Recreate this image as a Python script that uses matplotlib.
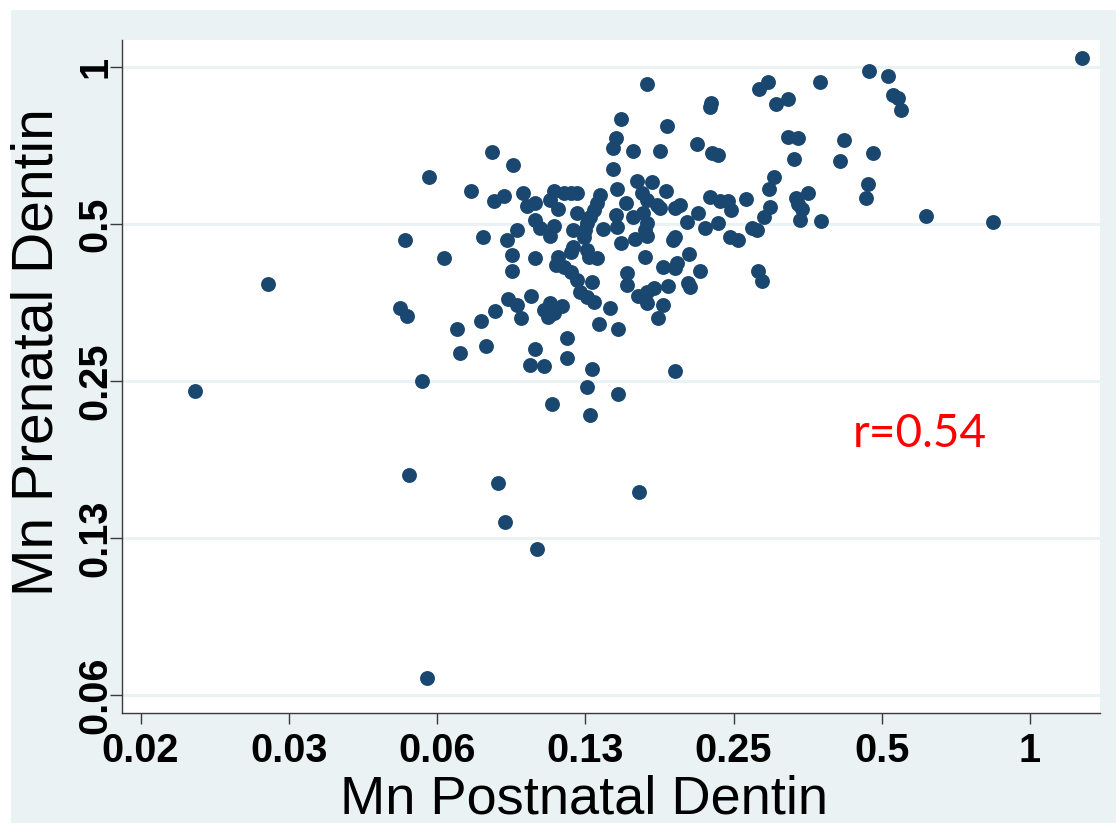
import matplotlib
matplotlib.use("Agg")
import matplotlib.pyplot as plt
from matplotlib.patches import Rectangle
from matplotlib.ticker import NullLocator

# Mn concentrations (log2 axes)
postnatal = [
    0.0202, 0.0284, 0.0526, 0.0544, 0.0539, 0.0603, 0.0646, 0.0583, 0.0549, 0.0596,
    0.0687, 0.0697, 0.0734,
    0.167, 0.225, 0.224, 0.148, 0.183, 0.144, 0.142, 0.211, 0.156, 0.177, 0.226, 0.233,
    0.282, 0.294, 0.305, 0.323, 0.375, 0.471, 0.515, 0.527, 0.540, 0.547, 1.275,
    0.323, 0.338, 0.332, 0.419, 0.411, 0.480,
    0.302, 0.295, 0.469, 0.465, 0.354, 0.265, 0.335, 0.338, 0.345, 0.341, 0.377,
    0.297, 0.288, 0.273, 0.279, 0.224, 0.235, 0.244, 0.247, 0.615, 0.841, 0.280, 0.286,
    0.0809, 0.0892, 0.0935, 0.0953, 0.0989, 0.0817, 0.0856,
    0.108, 0.113, 0.117, 0.120, 0.106, 0.110, 0.120, 0.0989, 0.101, 0.108, 0.106, 0.118,
    0.134, 0.132, 0.130, 0.128, 0.126, 0.125, 0.124,
    0.142, 0.145, 0.159, 0.171, 0.182, 0.151, 0.163, 0.167, 0.175, 0.177,
    0.144, 0.136, 0.145, 0.156, 0.164, 0.167, 0.165, 0.167, 0.158, 0.148,
    0.118, 0.117, 0.0888, 0.0989, 0.110, 0.126, 0.127, 0.132, 0.0868, 0.0909, 0.0775, 0.0888,
    0.109, 0.113, 0.117, 0.120, 0.129, 0.122, 0.126, 0.130, 0.140, 0.133, 0.146, 0.152, 0.152,
    0.165, 0.180, 0.190, 0.192, 0.188, 0.190, 0.203, 0.214, 0.202, 0.204, 0.184, 0.160,
    0.167, 0.172, 0.167, 0.180, 0.176,
    0.190, 0.195, 0.201, 0.212, 0.219, 0.233, 0.246, 0.255,
    0.0820, 0.0872, 0.0909, 0.0926, 0.0971, 0.103, 0.106, 0.108, 0.105, 0.112,
    0.0769, 0.0786, 0.0989, 0.0966, 0.103, 0.115, 0.115, 0.129, 0.126, 0.146, 0.107, 0.128,
    0.190,
    0.0832, 0.161, 0.0860, 0.0998,
]
prenatal = [
    0.239, 0.384, 0.345, 0.333, 0.466, 0.616, 0.431, 0.250, 0.165, 0.0674,
    0.315, 0.283, 0.579,
    0.928, 0.853, 0.838, 0.795, 0.771, 0.731, 0.700, 0.712, 0.690, 0.690, 0.684, 0.678,
    0.908, 0.936, 0.850, 0.869, 0.936, 0.983, 0.962, 0.884, 0.873, 0.827, 1.040,
    0.734, 0.731, 0.666, 0.725, 0.661, 0.684,
    0.616, 0.584, 0.597, 0.561, 0.573, 0.558, 0.561, 0.546, 0.534, 0.509, 0.507,
    0.539, 0.516, 0.491, 0.487, 0.563, 0.553, 0.553, 0.532, 0.518, 0.504, 0.406, 0.389,
    0.687, 0.649, 0.573, 0.541, 0.549, 0.553, 0.566,
    0.579, 0.573, 0.573, 0.573, 0.556, 0.534, 0.525, 0.509, 0.491, 0.496, 0.474, 0.487,
    0.568, 0.549, 0.532, 0.516, 0.502, 0.487, 0.472,
    0.637, 0.584, 0.605, 0.602, 0.579, 0.549, 0.573, 0.556, 0.544, 0.537,
    0.520, 0.489, 0.494, 0.516, 0.525, 0.502, 0.487, 0.474, 0.468, 0.460,
    0.452, 0.442, 0.436, 0.431, 0.432, 0.446, 0.432, 0.431, 0.466, 0.487, 0.472, 0.406,
    0.417, 0.414, 0.405, 0.391, 0.387, 0.370, 0.362, 0.354, 0.345, 0.322, 0.315, 0.403, 0.382,
    0.432, 0.414, 0.412, 0.421, 0.466, 0.472, 0.438, 0.406, 0.386, 0.379, 0.380, 0.364,
    0.370, 0.377, 0.353, 0.350, 0.330,
    0.537, 0.544, 0.504, 0.525, 0.491, 0.502, 0.472, 0.466,
    0.341, 0.359, 0.350, 0.330, 0.364, 0.342, 0.353, 0.338, 0.332, 0.348,
    0.326, 0.292, 0.288, 0.268, 0.267, 0.302, 0.277, 0.263, 0.243, 0.236, 0.226, 0.215,
    0.261,
    0.159, 0.153, 0.134, 0.119,
]

xticks = [1/64, 1/32, 1/16, 1/8, 1/4, 1/2, 1]
xticklabels = ['0.02', '0.03', '0.06', '0.13', '0.25', '0.5', '1']
yticks = [1/16, 1/8, 1/4, 1/2, 1]
yticklabels = ['0.06', '0.13', '0.25', '0.5', '1']

bg = '#EAF2F3'
navy = '#1A476F'
axcol = '#3a3a3a'

W, H = 1116, 826
fig = plt.figure(figsize=(W / 100, H / 100), dpi=100)
# light bluish-grey graph region behind the white plot area
fig.patches.append(Rectangle((11 / W, 3 / H), (W - 11) / W, 813 / H,
                             transform=fig.transFigure, facecolor=bg,
                             edgecolor='none', zorder=-10))

ax = fig.add_axes([122 / W, 113 / H, 978 / W, 673 / H])
ax.set_zorder(1)
ax.set_facecolor('white')
ax.set_xscale('log', base=2)
ax.set_yscale('log', base=2)

ax.scatter(postnatal, prenatal, s=115, color=navy, linewidths=0, zorder=3)

ax.set_xlim(0.01433, 1.387)
ax.set_ylim(0.05772, 1.1265)

ax.set_xticks(xticks)
ax.set_xticklabels(xticklabels)
ax.set_yticks(yticks)
ax.set_yticklabels(yticklabels, rotation=90, va='center', ha='right')
ax.xaxis.set_minor_locator(NullLocator())
ax.yaxis.set_minor_locator(NullLocator())

for lab in ax.get_xticklabels() + ax.get_yticklabels():
    lab.set_family('Liberation Sans')
    lab.set_fontweight('bold')
    lab.set_fontsize(28.5)
    lab.set_color('black')

ax.tick_params(axis='x', length=8, width=1, color=axcol, pad=6)
ax.tick_params(axis='y', length=8.5, width=1, color=axcol, pad=-3)

ax.yaxis.grid(True, color=bg, linewidth=2.2)
ax.xaxis.grid(False)
ax.set_axisbelow(True)

for side in ['top', 'right']:
    ax.spines[side].set_visible(False)
for side in ['left', 'bottom']:
    ax.spines[side].set_color(axcol)
    ax.spines[side].set_linewidth(1)

fig.text(584 / W, 1 - 814 / H, 'Mn Postnatal Dentin', family='Liberation Sans',
         fontsize=39, ha='center', va='baseline', zorder=2)
fig.text(53 / W, 1 - 352 / H, 'Mn Prenatal Dentin', family='Liberation Sans',
         fontsize=41, ha='center', va='baseline', rotation=90,
         rotation_mode='anchor', zorder=2)

fig.text(853 / W, 1 - 447 / H, 'r=0.54', family='Lato', fontsize=33,
         color='red', ha='left', va='baseline', zorder=5)

fig.savefig('out.png', dpi=100)
